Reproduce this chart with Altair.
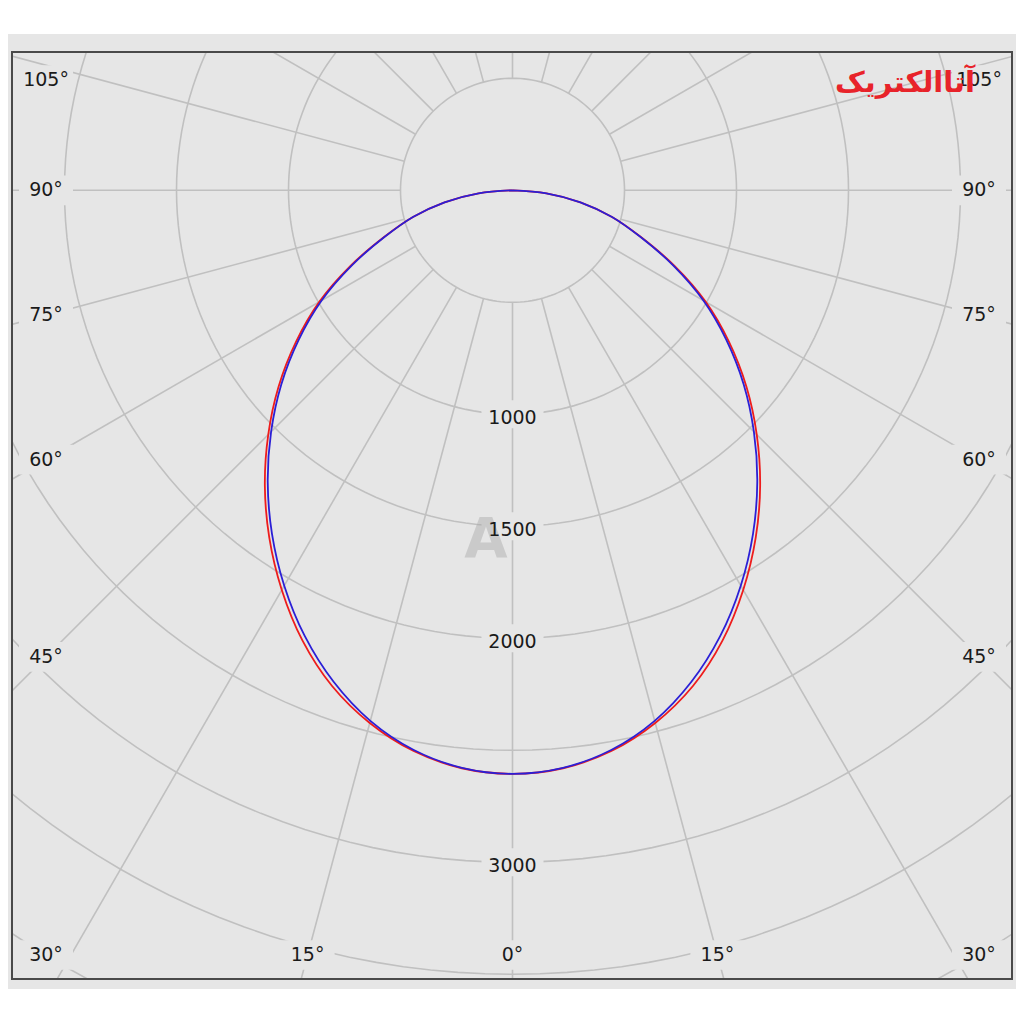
import math
import altair as alt
import pandas as pd

# ---------------- data ----------------
ANGLES = [0, 5, 10, 15, 20, 25, 30, 35, 40, 45, 50, 55, 60, 65, 70, 75, 80, 85, 90]
RED_CD = [2605, 2590, 2542, 2462, 2355, 2218, 2060, 1893, 1720, 1542, 1363, 1180, 996, 798, 610, 460, 308, 152, 0]
BLUE_CD = [2605, 2588, 2537, 2452, 2335, 2195, 2038, 1872, 1700, 1524, 1347, 1166, 984, 790, 607, 460, 308, 152, 0]
RING_VALUES = [500, 1000, 1500, 2000, 2500, 3000, 3500, 4000]
RING_LABELS = [1000, 1500, 2000, 3000]
RAY_ANGLES = list(range(0, 360, 15))
ANGLE_LABELS = [105, 90, 75, 60, 45, 30, 15, 0]

# ---------------- layout ----------------
W, H = 1000, 927
PX_PER_CD = 0.224
CX, CY = 500.5, 138.3  # pole position inside plot area (px)
x_dom = [-CX / PX_PER_CD, (W - CX) / PX_PER_CD]
y_dom = [-(H - CY) / PX_PER_CD, CY / PX_PER_CD]
XS = alt.Scale(domain=x_dom, nice=False, zero=False)
YS = alt.Scale(domain=y_dom, nice=False, zero=False)

BG = "#e6e6e6"
GRID = "#c0c0c0"
FONT = "DejaVu Sans"

# ---------------- tables ----------------
curve_rows = []
for name, vals in (("red", RED_CD), ("blue", BLUE_CD)):
    for a, v in zip(ANGLES, vals):
        curve_rows.append({"series": name, "ang": -a, "cd": v})
        if a != 0:
            curve_rows.append({"series": name, "ang": a, "cd": v})
curve_df = pd.DataFrame(curve_rows)

ring_df = pd.DataFrame([{"r": r, "phi": p} for r in RING_VALUES for p in range(0, 361, 2)])
ray_df = pd.DataFrame([{"a": a, "r": r, "k": i} for a in RAY_ANGLES for i, r in enumerate((500, 6000))])

# angle label anchor: where the ray meets an inset box (data units)
XLIM = 466.5 / PX_PER_CD
YTOP = 110.3 / PX_PER_CD
YBOT = -764.7 / PX_PER_CD


def anchor(theta, side):
    s, c = math.sin(math.radians(theta)), math.cos(math.radians(theta))
    if c > 0:
        t = -YBOT / c
        if abs(t * s) < 0.5 * XLIM:
            return side * t * s, YBOT
    t = XLIM / s
    y = min(max(-t * c, YBOT), YTOP)
    return side * XLIM, y


lab_rows = []
for th in ANGLE_LABELS:
    sides = (-1, 1) if th != 0 else (1,)
    for sd in sides:
        x, y = anchor(th, sd)
        lab_rows.append({"x": x, "y": y, "txt": f"{th}°"})
ang_lab_df = pd.DataFrame(lab_rows)
ring_lab_df = pd.DataFrame({"x": [0] * len(RING_LABELS), "y": [-v for v in RING_LABELS],
                            "txt": [str(v) for v in RING_LABELS]})
one = pd.DataFrame({"k": [0]})

# ---------------- layers ----------------
band = alt.Chart(one).mark_rect(color=BG).encode(
    x=alt.value(-4), x2=alt.value(W + 4), y=alt.value(-18), y2=alt.value(H + 10))


def xy(xf, yf):
    return dict(x=alt.X(xf, type="quantitative", scale=XS, axis=None),
                y=alt.Y(yf, type="quantitative", scale=YS, axis=None))


rings = alt.Chart(ring_df).transform_calculate(
    px="datum.r*sin(datum.phi*PI/180)", py="-datum.r*cos(datum.phi*PI/180)"
).mark_line(clip=True, color=GRID, strokeWidth=1.6).encode(
    **xy("px", "py"), detail="r:N", order="phi:Q")

rays = alt.Chart(ray_df).transform_calculate(
    px="datum.r*sin(datum.a*PI/180)", py="-datum.r*cos(datum.a*PI/180)"
).mark_line(clip=True, color=GRID, strokeWidth=1.6).encode(
    **xy("px", "py"), detail="a:N", order="k:Q")


def curve(name, color):
    return alt.Chart(curve_df).transform_filter(f"datum.series == '{name}'").transform_calculate(
        px="datum.cd*sin(datum.ang*PI/180)", py="-datum.cd*cos(datum.ang*PI/180)"
    ).mark_line(clip=True, color=color, strokeWidth=1.8, interpolate="catmull-rom").encode(
        **xy("px", "py"), order="ang:Q")


red = curve("red", "#ee1c1c")
blue = curve("blue", "#2b1fd6")

ring_box = alt.Chart(ring_lab_df).mark_point(
    shape="M-1,-0.45L1,-0.45L1,0.45L-1,0.45Z", size=3844, filled=True, color=BG, opacity=1, strokeWidth=0
).encode(**xy("x", "y"))
ang_box = alt.Chart(ang_lab_df).mark_point(
    shape="M-1,-0.55L1,-0.55L1,0.55L-1,0.55Z", size=2916, filled=True, color=BG, opacity=1, strokeWidth=0
).encode(**xy("x", "y"))

wm_a = alt.Chart(one).mark_text(text="A", font=FONT, fontSize=56, fontWeight="bold",
                                color="#a9a9a9", opacity=0.45).encode(
    x=alt.value(474), y=alt.value(488))

ring_txt = alt.Chart(ring_lab_df).mark_text(font=FONT, fontSize=19, color="#1a1a1a", dy=4).encode(
    **xy("x", "y"), text="txt:N")
ang_txt = alt.Chart(ang_lab_df).mark_text(font=FONT, fontSize=19, color="#1a1a1a").encode(
    **xy("x", "y"), text="txt:N")

logo = alt.Chart(one).mark_text(text="آتاالکتریک", font=FONT, fontSize=29, fontWeight="bold",
                                color="#e8232a").encode(x=alt.value(893), y=alt.value(31))

frame = alt.Chart(one).mark_rect(filled=False, stroke="#4a4a4a", strokeWidth=2).encode(
    x=alt.value(0), x2=alt.value(W), y=alt.value(0), y2=alt.value(H))

chart = alt.layer(
    band, rings, rays, red, blue, ring_box, ang_box, wm_a, ring_txt, ang_txt, logo, frame
).properties(
    width=W, height=H,
    autosize=alt.AutoSizeParams(type="none"),
    padding={"left": 4, "top": 44, "right": 4, "bottom": 14},
    background="white",
).configure_view(stroke=None, fill=None)

chart.save("out.html", embed_options={"renderer": "svg", "actions": False})
